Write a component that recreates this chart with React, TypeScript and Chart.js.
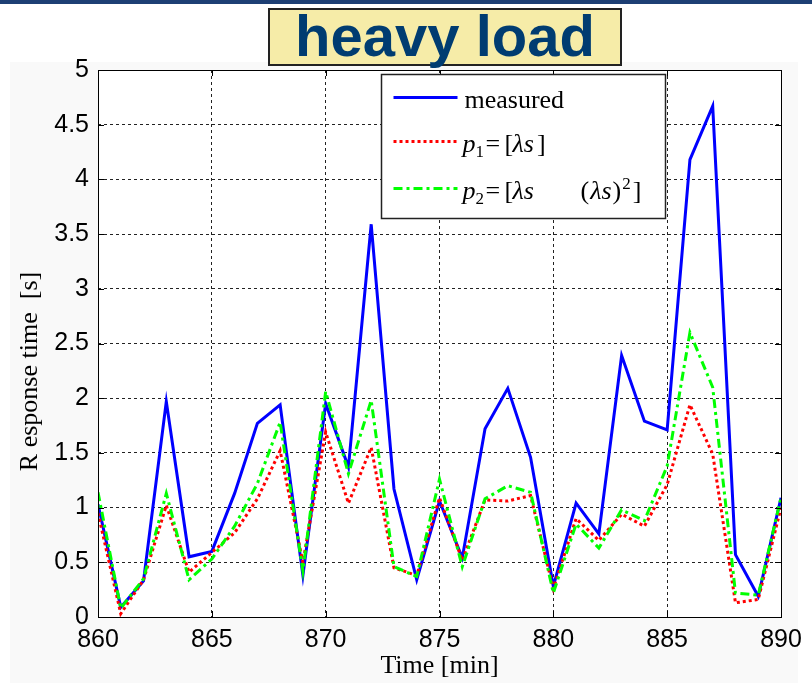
import React, { useEffect, useRef } from 'react';
import { Chart, registerables } from 'chart.js';

Chart.register(...registerables);

// ---- data ----
const times = [860, 861, 862, 863, 864, 865, 866, 867, 868, 869, 870, 871, 872, 873, 874, 875, 876, 877, 878, 879, 880, 881, 882, 883, 884, 885, 886, 887, 888, 889, 890];
const measured = [1.03, 0.09, 0.33, 1.97, 0.55, 0.60, 1.13, 1.77, 1.94, 0.38, 1.95, 1.37, 3.59, 1.17, 0.34, 1.06, 0.54, 1.72, 2.09, 1.46, 0.28, 1.04, 0.76, 2.39, 1.79, 1.71, 4.18, 4.67, 0.57, 0.19, 1.09];
const p1 = [0.95, 0.03, 0.34, 1.02, 0.41, 0.59, 0.77, 1.08, 1.52, 0.50, 1.69, 1.04, 1.55, 0.45, 0.38, 1.09, 0.52, 1.07, 1.06, 1.11, 0.26, 0.90, 0.70, 0.94, 0.83, 1.21, 1.94, 1.49, 0.13, 0.16, 1.00];
const p2 = [1.14, 0.08, 0.35, 1.13, 0.34, 0.53, 0.83, 1.22, 1.78, 0.42, 2.06, 1.31, 1.98, 0.46, 0.37, 1.26, 0.46, 1.08, 1.20, 1.14, 0.22, 0.85, 0.63, 0.98, 0.88, 1.38, 2.60, 2.10, 0.22, 0.20, 1.09];
const xTicks = [860, 865, 870, 875, 880, 885, 890];
const yTicks = [0, 0.5, 1, 1.5, 2, 2.5, 3, 3.5, 4, 4.5, 5];
const yTickLabels = ['0', '0.5', '1', '1.5', '2', '2.5', '3', '3.5', '4', '4.5', '5'];
const titleText = 'heavy load';
const xTitle = 'Time [min]';
const yTitle = 'R esponse time  [s]';
const legendLabels = ['measured', 'p1', 'p2'];

const SERIF = '"Liberation Serif", "Times New Roman", serif';
const SANS = '"Liberation Sans", Arial, sans-serif';

const decorPlugin = {
  id: 'decor',
  beforeDraw(chart: any) {
    const { ctx, chartArea: a } = chart;
    ctx.save();
    ctx.fillStyle = '#f9f9f9';
    ctx.fillRect(10, 62, 788, 621);
    ctx.fillStyle = '#ffffff';
    ctx.fillRect(a.left, a.top, a.right - a.left, a.bottom - a.top);
    ctx.restore();
  },
  afterDraw(chart: any) {
    const { ctx, chartArea: a } = chart;
    const xs = chart.scales.x;
    const ys = chart.scales.y;
    ctx.save();
    ctx.setLineDash([]);
    ctx.strokeStyle = '#000';
    ctx.lineWidth = 1;
    // inward ticks
    ctx.beginPath();
    xTicks.forEach((v) => {
      const x = Math.round(xs.getPixelForValue(v)) + 0.5;
      ctx.moveTo(x, a.bottom); ctx.lineTo(x, a.bottom - 6);
      ctx.moveTo(x, a.top); ctx.lineTo(x, a.top + 6);
    });
    yTicks.forEach((v) => {
      const y = Math.round(ys.getPixelForValue(v)) + 0.5;
      ctx.moveTo(a.left, y); ctx.lineTo(a.left + 6, y);
      ctx.moveTo(a.right, y); ctx.lineTo(a.right - 6, y);
    });
    ctx.stroke();
    // frame
    ctx.strokeRect(Math.round(a.left) + 0.5, Math.round(a.top) + 0.5, Math.round(a.right - a.left), Math.round(a.bottom - a.top));

    // legend
    const bx = Math.round(a.left + 283) + 0.5;
    const by = Math.round(a.top + 4) + 0.5;
    const bw = 284, bh = 144;
    ctx.fillStyle = '#fff';
    ctx.fillRect(bx, by, bw, bh);
    ctx.lineWidth = 1.5;
    ctx.strokeStyle = '#222';
    ctx.strokeRect(bx, by, bw, bh);
    const rows = [by + 23, by + 67, by + 114];
    const styles = [
      { c: '#0000ff', d: [] as number[] },
      { c: '#ff0000', d: [3, 3] },
      { c: '#00ff00', d: [9, 4, 3, 4] },
    ];
    rows.forEach((ry, i) => {
      ctx.beginPath();
      ctx.strokeStyle = styles[i].c;
      ctx.lineWidth = 3;
      ctx.setLineDash(styles[i].d);
      ctx.moveTo(bx + 12, ry);
      ctx.lineTo(bx + 76, ry);
      ctx.stroke();
    });
    ctx.setLineDash([]);
    ctx.fillStyle = '#000';
    ctx.textBaseline = 'alphabetic';
    ctx.textAlign = 'left';
    const up = '26px ' + SERIF;
    const it = 'italic 26px ' + SERIF;
    const sm = '17px ' + SERIF;
    const put = (t: string, f: string, dx: number, y: number) => {
      ctx.font = f;
      ctx.fillText(t, bx + dx, y);
      return dx + ctx.measureText(t).width;
    };
    // row 1
    put(legendLabels[0], up, 83, rows[0] + 10);
    // row 2: p1 = [λs]
    let b = rows[1] + 10;
    put('p', it, 81, b);
    put('1', sm, 94, b + 5);
    put('=', up, 104, b);
    put('[', up, 123, b);
    let e = put('λs', it, 131, b);
    put(']', up, e + 3, b);
    // row 3: p2 = [λs   (λs)^2]
    b = rows[2] + 10;
    put('p', it, 81, b);
    put('2', sm, 94, b + 5);
    put('=', up, 104, b);
    put('[', up, 123, b);
    put('λs', it, 131, b);
    e = put('(', up, 199, b);
    e = put('λs', it, e + 1, b);
    e = put(')', up, e + 1, b);
    e = put('2', sm, e + 1, b - 10);
    put(']', up, e + 2, b);

    // y axis title
    ctx.translate(30, (a.top + a.bottom) / 2 + 28);
    ctx.rotate(-Math.PI / 2);
    ctx.textAlign = 'center';
    ctx.textBaseline = 'middle';
    ctx.font = '26px ' + SERIF;
    ctx.fillText(yTitle, 0, 0);
    ctx.restore();
  },
};

export default function App() {
  const ref = useRef<HTMLCanvasElement | null>(null);

  useEffect(() => {
    if (!ref.current) return;
    const mk = (arr: number[]) => times.map((t, i) => ({ x: t, y: arr[i] }));
    const chart = new Chart(ref.current, {
      type: 'line',
      data: {
        datasets: [
          { label: 'measured', data: mk(measured), borderColor: '#0000ff', borderWidth: 3, pointRadius: 0, tension: 0, order: 3 },
          { label: 'p1', data: mk(p1), borderColor: '#ff0000', borderWidth: 3, borderDash: [3, 3], pointRadius: 0, tension: 0, order: 2 },
          { label: 'p2', data: mk(p2), borderColor: '#00ff00', borderWidth: 3, borderDash: [9, 4, 3, 4], pointRadius: 0, tension: 0, order: 1 },
        ],
      },
      options: {
        responsive: false,
        animation: false,
        devicePixelRatio: 1,
        layout: { padding: { left: 0, right: 31, top: 70, bottom: 0 } },
        plugins: { legend: { display: false }, tooltip: { enabled: false }, title: { display: false } },
        scales: {
          x: {
            type: 'linear',
            min: 860,
            max: 890,
            afterBuildTicks: (s: any) => { s.ticks = xTicks.map((v) => ({ value: v })); },
            afterFit: (s: any) => { s.height = 69; },
            ticks: { color: '#000', font: { family: SANS, size: 25 }, padding: 8, maxRotation: 0, autoSkip: false, callback: (v: any) => String(v) },
            grid: { color: '#222', lineWidth: 1, drawTicks: false },
            border: { display: false, dash: [3, 3] },
            title: { display: true, text: xTitle, color: '#000', font: { family: SERIF, size: 26 }, padding: { top: 0, bottom: 4 } },
          },
          y: {
            type: 'linear',
            min: 0,
            max: 5,
            afterBuildTicks: (s: any) => { s.ticks = yTicks.map((v) => ({ value: v })); },
            afterFit: (s: any) => { s.width = 98; },
            ticks: {
              color: '#000', font: { family: SANS, size: 25 }, padding: 9, autoSkip: false,
              callback: (v: any) => { const i = yTicks.indexOf(Number(v)); return i >= 0 ? yTickLabels[i] : String(v); },
            },
            grid: { color: '#222', lineWidth: 1, drawTicks: false },
            border: { display: false, dash: [3, 3] },
          },
        },
      },
      plugins: [decorPlugin],
    } as any);
    return () => chart.destroy();
  }, []);

  return (
    <div style={{ position: 'fixed', left: 0, top: 0, width: 812, height: 686, background: '#fff', overflow: 'hidden' }}>
      <div style={{ position: 'absolute', left: 0, top: 0, width: 812, height: 4, background: '#1d3f74' }} />
      <canvas ref={ref} width={812} height={686} style={{ position: 'absolute', left: 0, top: 0, width: 812, height: 686, display: 'block' }} />
      <div
        style={{
          position: 'absolute', left: 268, top: 8, width: 354, height: 58, boxSizing: 'border-box',
          background: '#f6eca8', border: '2px solid #222', textAlign: 'center',
          fontFamily: SANS, fontWeight: 'bold', fontSize: 58, lineHeight: '52px', color: '#003c71',
        }}
      >
        {titleText}
      </div>
    </div>
  );
}
